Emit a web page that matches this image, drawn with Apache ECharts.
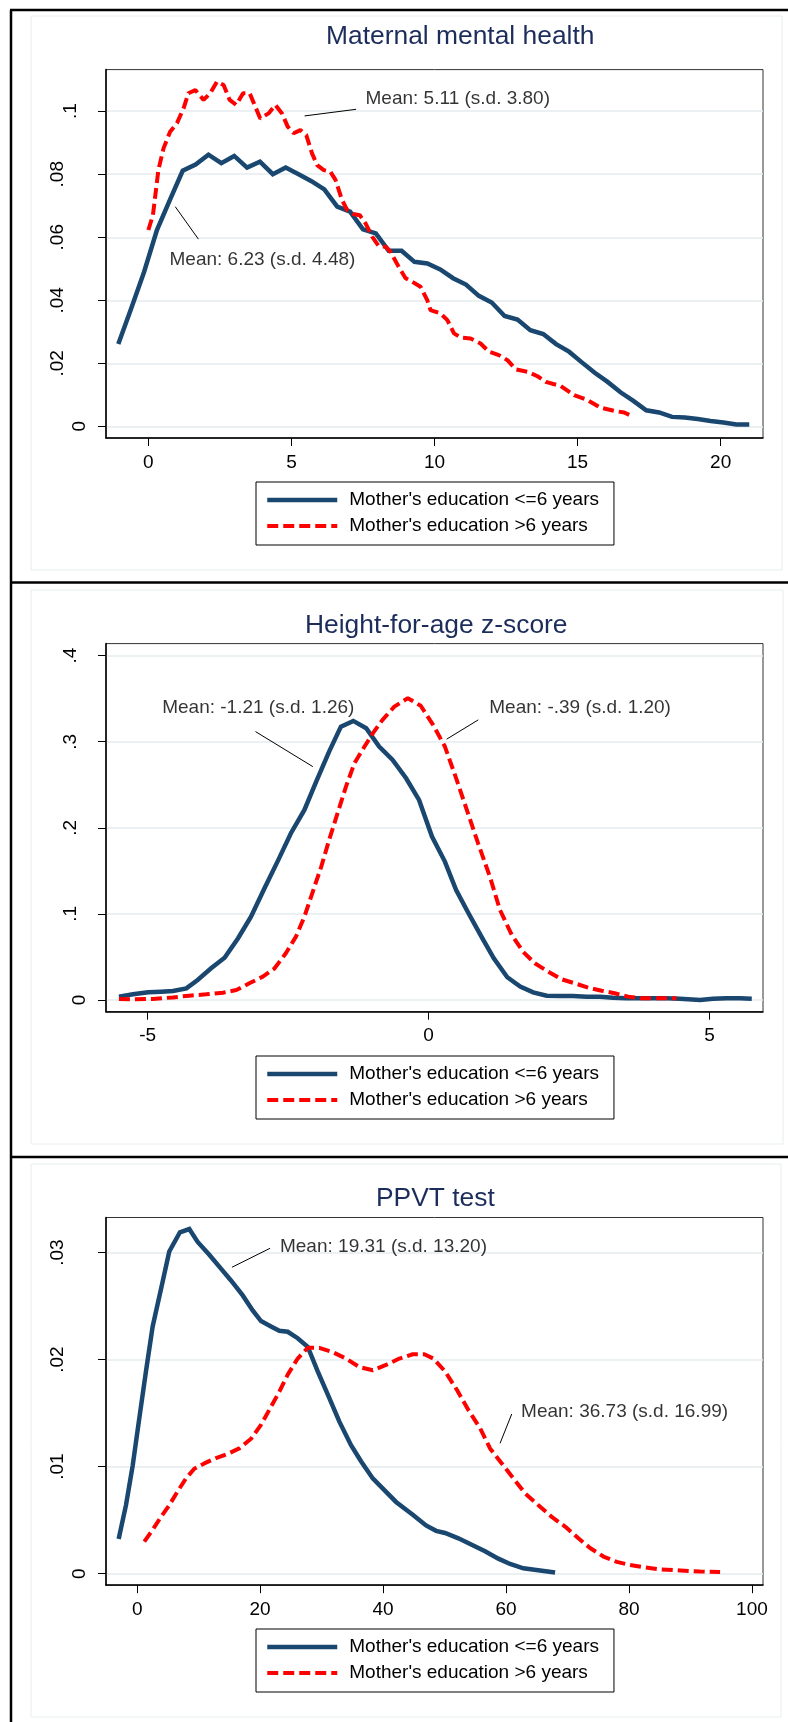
<!DOCTYPE html>
<html><head><meta charset="utf-8">
<script src="https://cdn.jsdelivr.net/npm/echarts@6/dist/echarts.min.js"></script>
<style>html,body{margin:0;padding:0;background:#fff}#c{width:788px;height:1722px}</style>
</head><body><div id="c"></div>
<script>
const LOW = "Mother's education <=6 years";
const HIGH = "Mother's education >6 years";

// ---------- Panel 1: Maternal mental health ----------
const mmhTitle = 'Maternal mental health';
const mmhLow = [[-1.05,0.0261],[-0.6,0.0374],[-0.15,0.049],[0.3,0.0623],[0.75,0.0718],[1.2,0.0811],[1.65,0.0831],[2.1,0.0862],[2.55,0.0835],[3.0,0.0858],[3.45,0.0821],[3.9,0.084],[4.35,0.080],[4.8,0.0821],[5.25,0.080],[5.7,0.0778],[6.15,0.0752],[6.6,0.0697],[7.05,0.0681],[7.5,0.0625],[7.95,0.0612],[8.4,0.0557],[8.85,0.0557],[9.3,0.0522],[9.75,0.0517],[10.2,0.0498],[10.65,0.047],[11.1,0.045],[11.55,0.0414],[12.0,0.0393],[12.45,0.035],[12.9,0.0339],[13.35,0.0305],[13.8,0.0293],[14.25,0.0261],[14.7,0.0237],[15.15,0.0203],[15.6,0.017],[16.05,0.0141],[16.5,0.0108],[16.95,0.0081],[17.4,0.0051],[17.85,0.0044],[18.3,0.003],[18.75,0.0028],[19.2,0.0023],[19.65,0.0017],[20.1,0.0012],[20.55,0.0006],[21.0,0.0006]];
const mmhHigh = [[0.0,0.0623],[0.16,0.067],[0.35,0.0813],[0.53,0.0882],[0.76,0.0935],[1.0,0.0962],[1.23,0.1009],[1.4,0.1057],[1.64,0.1067],[1.93,0.1036],[2.16,0.1057],[2.4,0.1094],[2.63,0.1083],[2.84,0.1036],[3.07,0.102],[3.31,0.1057],[3.54,0.1057],[3.74,0.1014],[3.91,0.0977],[4.2,0.0993],[4.44,0.102],[4.67,0.0993],[4.87,0.0951],[5.08,0.093],[5.31,0.094],[5.52,0.0924],[5.72,0.0866],[5.9,0.0829],[6.13,0.0813],[6.36,0.0808],[6.54,0.0782],[6.77,0.0718],[6.95,0.0686],[7.16,0.0674],[7.39,0.067],[7.59,0.0644],[7.82,0.0602],[8.05,0.0572],[8.29,0.057],[8.46,0.0554],[8.75,0.0506],[8.99,0.047],[9.22,0.0459],[9.51,0.0443],[9.75,0.04],[9.86,0.0369],[10.21,0.0358],[10.45,0.0337],[10.68,0.0295],[10.91,0.0282],[11.26,0.0279],[11.61,0.0263],[11.9,0.0237],[12.25,0.0226],[12.55,0.021],[12.84,0.0181],[13.25,0.0173],[13.6,0.0159],[13.89,0.0141],[14.41,0.0128],[14.88,0.0099],[15.35,0.0083],[15.81,0.0059],[16.28,0.0049],[16.63,0.0044],[16.95,0.003]];
const mmhXTicks = [0, 5, 10, 15, 20];
const mmhXLabels = ['0', '5', '10', '15', '20'];
const mmhYTicks = [0, 0.02, 0.04, 0.06, 0.08, 0.1];
const mmhYLabels = ['0', '.02', '.04', '.06', '.08', '.1'];
const mmhNoteTexts = ['Mean: 5.11 (s.d. 3.80)', 'Mean: 6.23 (s.d. 4.48)'];
const mmhNoteAt = [[7.59, 0.1038], [0.74, 0.053]];
const mmhLeaders = [[[5.46, 0.0985], [7.26, 0.1006]], [[0.94, 0.0697], [1.75, 0.0594]]];

// ---------- Panel 2: Height-for-age z-score ----------
const hazTitle = 'Height-for-age z-score';
const hazLow = [[-5.51,0.0039],[-5.26,0.0066],[-4.99,0.0089],[-4.76,0.0097],[-4.55,0.0105],[-4.31,0.0135],[-4.11,0.0232],[-3.87,0.0368],[-3.63,0.049],[-3.39,0.0717],[-3.16,0.0968],[-2.92,0.1298],[-2.68,0.1619],[-2.45,0.1937],[-2.21,0.2208],[-2.0,0.2537],[-1.77,0.2886],[-1.56,0.3176],[-1.34,0.3242],[-1.11,0.3157],[-0.88,0.2944],[-0.64,0.2789],[-0.4,0.2576],[-0.17,0.2324],[0.06,0.1898],[0.29,0.1608],[0.49,0.1278],[0.71,0.1007],[0.94,0.0736],[1.16,0.0484],[1.4,0.0264],[1.63,0.0155],[1.86,0.0089],[2.1,0.005],[2.34,0.0046],[2.57,0.0046],[2.81,0.0039],[3.05,0.0039],[3.28,0.0027],[3.52,0.002],[3.76,0.002],[3.99,0.002],[4.23,0.002],[4.47,0.0015],[4.83,0.0],[5.06,0.0015],[5.3,0.002],[5.54,0.002],[5.75,0.0015]];
const hazHigh = [[-5.51,0.0012],[-5.26,0.0008],[-4.91,0.0012],[-4.55,0.003],[-4.26,0.005],[-3.96,0.0066],[-3.66,0.0085],[-3.42,0.0116],[-3.19,0.0194],[-2.95,0.0271],[-2.74,0.0368],[-2.54,0.0543],[-2.36,0.0736],[-2.21,0.0968],[-2.06,0.1259],[-1.91,0.1549],[-1.77,0.1859],[-1.62,0.217],[-1.47,0.2479],[-1.32,0.2751],[-1.14,0.2944],[-0.99,0.31],[-0.82,0.3254],[-0.61,0.3408],[-0.37,0.3506],[-0.14,0.3418],[0.08,0.3196],[0.29,0.2944],[0.5,0.2557],[0.68,0.2208],[0.88,0.1821],[1.09,0.1433],[1.27,0.1046],[1.48,0.0755],[1.68,0.0561],[1.89,0.0426],[2.13,0.0329],[2.37,0.024],[2.6,0.0194],[2.84,0.0143],[3.08,0.0108],[3.31,0.0078],[3.55,0.0039],[3.79,0.002],[4.03,0.002],[4.41,0.002]];
const hazXTicks = [-5, 0, 5];
const hazXLabels = ['-5', '0', '5'];
const hazYTicks = [0, 0.1, 0.2, 0.3, 0.4];
const hazYLabels = ['0', '.1', '.2', '.3', '.4'];
const hazNoteTexts = ['Mean: -1.21 (s.d. 1.26)', 'Mean: -.39 (s.d. 1.20)'];
const hazNoteAt = [[-4.74, 0.339], [1.08, 0.339]];
const hazLeaders = [[[-3.08, 0.3118], [-2.06, 0.2711]], [[0.884, 0.3254], [0.322, 0.303]]];

// ---------- Panel 3: PPVT test ----------
const ppvtTitle = 'PPVT test';
const ppvtLow = [[-3.01,0.00323],[-1.82,0.0064],[-0.73,0.0101],[0.34,0.0145],[1.43,0.0189],[2.52,0.0231],[4.15,0.0273],[5.22,0.0301],[6.96,0.0319],[8.48,0.0322],[9.84,0.031],[11.73,0.0298],[13.63,0.0285],[15.26,0.0274],[17.17,0.026],[18.79,0.0246],[20.14,0.0236],[21.77,0.0231],[23.12,0.0227],[24.49,0.0226],[26.11,0.022],[27.74,0.0212],[29.37,0.0189],[31.26,0.0164],[32.89,0.0142],[34.79,0.012],[36.41,0.0105],[38.32,0.0089],[40.21,0.0078],[42.11,0.0067],[44.83,0.0055],[46.99,0.0045],[48.62,0.004],[50.08,0.0038],[52.25,0.0033],[54.42,0.0027],[56.59,0.0021],[58.75,0.0014],[60.66,0.0009],[62.82,0.0005],[65.54,0.0003],[67.98,0.0001]];
const ppvtHigh = [[1.16,0.003],[2.52,0.0041],[3.87,0.0053],[5.22,0.0064],[6.59,0.0077],[7.94,0.0089],[9.29,0.0098],[10.92,0.0103],[12.82,0.0108],[14.73,0.0112],[16.61,0.0117],[18.52,0.0126],[20.14,0.0139],[21.49,0.0153],[23.12,0.017],[24.49,0.0186],[26.11,0.0201],[27.74,0.0211],[29.63,0.0211],[31.81,0.0207],[33.97,0.0201],[36.14,0.0193],[38.32,0.019],[40.48,0.0195],[42.65,0.0201],[44.83,0.0205],[46.71,0.0205],[48.18,0.0201],[50.08,0.0189],[51.98,0.0172],[53.87,0.0153],[55.78,0.0136],[57.4,0.0117],[59.31,0.0103],[61.2,0.0089],[63.1,0.0075],[65.26,0.0064],[67.44,0.0053],[69.61,0.0044],[71.77,0.0033],[73.67,0.0024],[75.84,0.0016],[78.02,0.0011],[80.18,0.0008],[82.35,0.0006],[85.06,0.0004],[88.32,0.0003],[91.57,0.0002],[94.82,0.00015]];
const ppvtXTicks = [0, 20, 40, 60, 80, 100];
const ppvtXLabels = ['0', '20', '40', '60', '80', '100'];
const ppvtYTicks = [0, 0.01, 0.02, 0.03];
const ppvtYLabels = ['0', '.01', '.02', '.03'];
const ppvtNoteTexts = ['Mean: 19.31 (s.d. 13.20)', 'Mean: 36.73 (s.d. 16.99)'];
const ppvtNoteAt = [[23.23, 0.03055], [62.45, 0.01513]];
const ppvtLeaders = [[[15.42, 0.02863], [21.61, 0.0304]], [[59.03, 0.01218], [60.93, 0.01492]]];

// ---------- layout / styling ----------
const FONT = "'Liberation Sans', Arial, Helvetica, sans-serif";
const NAVY = '#1a476f';
const RED = '#ff0000';
const GRIDC = '#e4ecef';
const DASH = [11, 5];

const panels = [
  {title: mmhTitle, low: mmhLow, high: mmhHigh, xT: mmhXTicks, xL: mmhXLabels, yT: mmhYTicks, yL: mmhYLabels,
   notes: mmhNoteTexts, noteAt: mmhNoteAt, leaders: mmhLeaders,
   xMin: -1.48, xMax: 21.48, yMin: -0.0037, yMax: 0.1132,
   gTop: 69.6, gH: 368.4, tLeft: 326, tTop: 24, lTop: 482},
  {title: hazTitle, low: hazLow, high: hazHigh, xT: hazXTicks, xL: hazXLabels, yT: hazYTicks, yL: hazYLabels,
   notes: hazNoteTexts, noteAt: hazNoteAt, leaders: hazLeaders,
   xMin: -5.74, xMax: 5.95, yMin: -0.0136, yMax: 0.414,
   gTop: 643.6, gH: 368.1, tLeft: 305, tTop: 613, lTop: 1056},
  {title: ppvtTitle, low: ppvtLow, high: ppvtHigh, xT: ppvtXTicks, xL: ppvtXLabels, yT: ppvtYTicks, yL: ppvtYLabels,
   notes: ppvtNoteTexts, noteAt: ppvtNoteAt, leaders: ppvtLeaders,
   xMin: -5.07, xMax: 101.8, yMin: -0.00108, yMax: 0.03328,
   gTop: 1217.5, gH: 367.7, tLeft: 376, tTop: 1185.5, lTop: 1629}
];

function lookup(ticks, labels, v) {
  for (let i = 0; i < ticks.length; i++) if (Math.abs(ticks[i] - v) < 1e-9) return labels[i];
  return '';
}
const yRichBase = {fontSize: 19, fontFamily: FONT, color: '#000'};

const option = {
  animation: false,
  backgroundColor: '#fff',
  title: panels.map(p => ({text: p.title, left: p.tLeft, top: p.tTop, padding: 0,
    textStyle: {fontSize: 26.4, fontWeight: 'normal', color: '#1c2d5c', fontFamily: FONT}})),
  legend: panels.map(p => ({
    data: [{name: LOW, lineStyle: {width: 4.5}}, {name: HIGH, lineStyle: {width: 4, type: DASH}}],
    orient: 'vertical', left: 256, top: p.lTop,
    padding: [8, 15, 9, 9], itemWidth: 70, itemHeight: 14, itemGap: 6,
    itemStyle: {opacity: 0},
    borderColor: '#000', borderWidth: 1, borderRadius: 0, backgroundColor: '#fff', selectedMode: false,
    textStyle: {fontSize: 19, color: '#000', fontFamily: FONT, lineHeight: 20, padding: [0, 0, 0, 7]}})),
  grid: panels.map(p => ({left: 106, right: 25, top: p.gTop, height: p.gH, show: true,
    borderColor: '#333', borderWidth: 1, backgroundColor: '#fff'})),
  xAxis: panels.map((p, i) => ({gridIndex: i, type: 'value', min: p.xMin, max: p.xMax,
    axisLine: {onZero: false, lineStyle: {color: '#000', width: 1.5}},
    axisTick: {customValues: p.xT, length: 8, lineStyle: {color: '#000', width: 1}},
    axisLabel: {customValues: p.xT, margin: 15, fontSize: 19, color: '#000', fontFamily: FONT,
      formatter: v => lookup(p.xT, p.xL, v)},
    splitLine: {show: false}})),
  yAxis: panels.map((p, i) => ({gridIndex: i, type: 'value', min: p.yMin, max: p.yMax,
    axisLine: {onZero: false, lineStyle: {color: '#000', width: 1.5}},
    axisTick: {customValues: p.yT, length: 8, lineStyle: {color: '#000', width: 1}},
    axisLabel: {customValues: p.yT, rotate: 90, margin: 17, fontSize: 19, color: '#000',
      fontFamily: FONT,
      formatter: v => { const s = lookup(p.yT, p.yL, v); const k = s.length <= 1 ? 'a' : (s.length === 2 ? 'b' : 'c'); return '{' + k + '|' + s + '}'; },
      rich: {a: Object.assign({padding: [0, 0, 0, 0]}, yRichBase),
             b: Object.assign({padding: [0, 0, 9, 0]}, yRichBase),
             c: Object.assign({padding: [0, 0, 22, 0]}, yRichBase)}},
    splitLine: {show: true, lineStyle: {color: GRIDC, width: 1.5}}})),
  series: [],
  graphic: []
};

panels.forEach((p, i) => {
  p.leaders.forEach(seg => option.series.push({type: 'line', xAxisIndex: i, yAxisIndex: i, data: seg,
    symbol: 'none', silent: true, z: 3, lineStyle: {color: '#000', width: 1}}));
  option.series.push({name: LOW, type: 'line', xAxisIndex: i, yAxisIndex: i, data: p.low,
    symbol: 'none', silent: true, z: 4, lineStyle: {color: NAVY, width: 4.5, cap: 'butt', join: 'miter'},
    itemStyle: {color: NAVY}});
  option.series.push({name: HIGH, type: 'line', xAxisIndex: i, yAxisIndex: i, data: p.high,
    symbol: 'none', silent: true, z: 5, lineStyle: {color: RED, width: 4, type: DASH, cap: 'butt'},
    itemStyle: {color: RED}});
  option.series.push({type: 'scatter', xAxisIndex: i, yAxisIndex: i, silent: true, z: 6,
    symbolSize: 0,
    data: p.notes.map((t, j) => ({name: t, value: p.noteAt[j]})),
    label: {show: true, position: 'right', distance: 0, formatter: '{b}', fontSize: 19, color: '#000', fontFamily: FONT}});
});

// decorative frame (panel borders)
const frameRects = [[31, 16, 751, 554], [31, 590, 752, 554], [31, 1164, 750, 553]];
frameRects.forEach(r => option.graphic.push({type: 'rect', silent: true, z: -1,
  shape: {x: r[0], y: r[1], width: r[2], height: r[3]}, style: {fill: 'none', stroke: '#e8eef0', lineWidth: 1}}));
const frameLines = [[11, 10, 11, 1722], [10, 10, 788, 10], [10, 582.5, 788, 582.5], [10, 1157, 788, 1157]];
frameLines.forEach(l => option.graphic.push({type: 'line', silent: true, z: 10,
  shape: {x1: l[0], y1: l[1], x2: l[2], y2: l[3]}, style: {stroke: '#000', lineWidth: 2.5}}));

const chart = echarts.init(document.getElementById('c'), null, {renderer: 'canvas', devicePixelRatio: 1});
chart.setOption(option);
</script>
</body></html>
